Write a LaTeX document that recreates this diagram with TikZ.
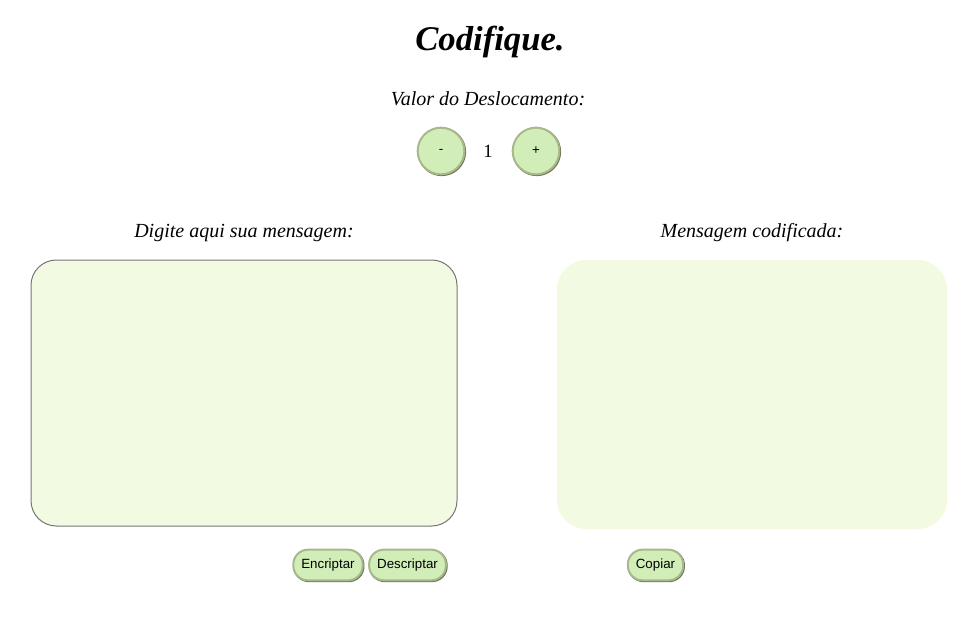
\documentclass[tikz,border=0pt]{standalone}
\usepackage{fontspec}
\setmainfont{Liberation Serif}
\newfontfamily\btnfont{Liberation Sans}
\definecolor{btnfill}{HTML}{D2EEB8}
\definecolor{btnedge}{HTML}{A8B88C}
\definecolor{btnshade}{HTML}{6C7454}
\definecolor{areafill}{HTML}{F2FAE1}
\definecolor{areaedge}{HTML}{767676}

\tikzset{
	label/.style={font=\fontsize{15pt}{17pt}\selectfont\itshape},
	btnshadow/.style={preaction={draw=btnshade,line width=1.5pt,transform canvas={shift={(0.6pt,-0.6pt)}}}},
	roundbtn/.style={circle,btnshadow,fill=btnfill,draw=btnedge,line width=1.5pt,minimum size=35pt,inner sep=0pt,font=\btnfont\fontsize{10pt}{12pt}\selectfont},
	pillbtn/.style={rounded corners=11pt,btnshadow,fill=btnfill,draw=btnedge,line width=1.5pt,minimum height=23pt,inner xsep=6pt,font=\btnfont\fontsize{10pt}{12pt}\selectfont},
	textarea/.style={rounded corners=19pt,fill=areafill,inner sep=0pt}
}

\begin{document}
\begin{tikzpicture}[x=0.75pt,y=0.75pt,yscale=-1,xscale=1]
		\useasboundingbox (0,0) rectangle (976,619);
		
		\node[font=\fontsize{26pt}{29pt}\selectfont\bfseries\itshape] (titulo) at (490,42) {Codifique.};
		\node[label] (valor) at (488,99) {Valor do Deslocamento:};
		\node[roundbtn] (menos) at (441,151) {-};
		\node[font=\fontsize{14pt}{16pt}\selectfont] (desloc) at (488,151) {1};
		\node[roundbtn] (mais) at (536,151) {+};
		
		\node[label] (rotuloentrada) at (244,233) {Digite aqui sua mensagem:};
		\node[label] (rotulosaida) at (752,233) {Mensagem codificada:};
		
		\node[textarea,draw=areaedge,line width=0.75pt,minimum width=319.5pt,minimum height=199.5pt] (entrada) at (244,393) {};
		\node[textarea,rounded corners=22pt,minimum width=292.5pt,minimum height=201.75pt] (saida) at (752,394.5) {};
		
		\node[pillbtn] (encriptar) at (328,565) {Encriptar};
		\node[pillbtn] (descriptar) at (407.5,565) {Descriptar};
		\node[pillbtn] (copiar) at (655.5,565) {Copiar};
\end{tikzpicture}
\end{document}
